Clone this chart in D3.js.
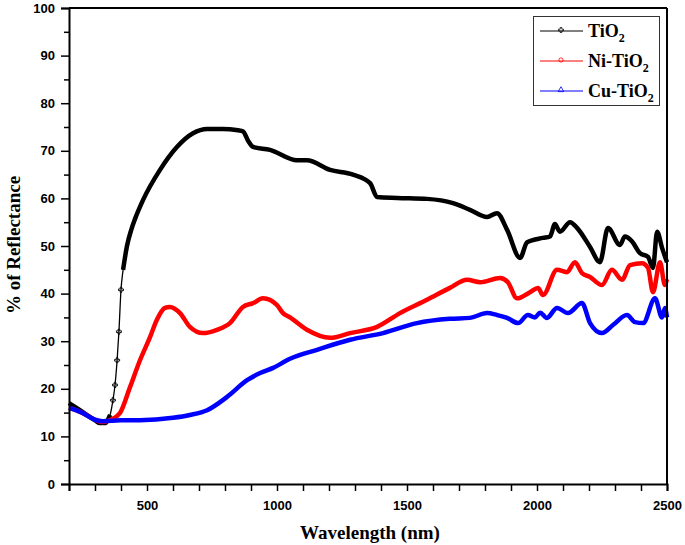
<!DOCTYPE html>
<html><head><meta charset="utf-8">
<script src="https://cdn.jsdelivr.net/npm/d3@7"></script>
<style>body{margin:0;background:#fff}svg{display:block}</style>
</head><body>
<svg id="c" width="685" height="545"></svg>
<script>
const tio2Wl = [200,242,300,319,338,358,369,377,385,392,400,408,423,440,454,485,550,615,677,731,792,850,869,890,908,973,1077,1115,1204,1292,1358,1385,1462,1577,1677,1742,1808,1846,1885,1935,1962,2023,2050,2069,2088,2127,2154,2204,2242,2273,2319,2338,2365,2396,2427,2446,2462,2481,2500];
const tio2R = [17,15.5,13.4,12.8,12.8,14.5,17.6,20.8,26,32,40.8,45,50,53.5,55.7,59.7,66,70.8,73.7,74.6,74.6,74.3,74.1,72,70.8,70.2,68,68,66,65,63.2,60.3,60.1,59.9,59,57.6,56.1,56.9,53.4,47.5,50.8,51.7,52,54.6,53,55,53.8,49.8,46.6,53.8,50.2,52,51,48.5,47.7,45.4,53,49.6,46.6];
const niWl = [200,250,300,330,360,396,435,473,512,538,569,588,627,665,715,769,819,869,908,946,1000,1023,1050,1115,1204,1281,1385,1473,1577,1665,1731,1781,1858,1888,1923,1973,2004,2023,2077,2115,2146,2173,2204,2250,2288,2327,2358,2404,2427,2446,2473,2492,2500];
const niR = [16,15,13.5,13,13.5,14.9,20.4,26,30.9,34.5,37,37.2,35.9,33,31.7,32.4,33.8,37.2,38,39,37.6,35.9,35,32.4,30.7,31.7,33,35.9,38.7,41.2,42.9,42.4,43.3,42.4,39,40.3,41.2,39.7,45,44.5,46.6,44.3,43.5,41.8,45,42.9,46,46.4,45.4,40.3,46.6,41.8,43];
const cuWl = [200,250,300,330,400,473,600,665,731,808,885,935,985,1050,1154,1281,1408,1538,1665,1742,1808,1846,1885,1927,1965,1992,2012,2038,2077,2119,2173,2204,2250,2292,2346,2377,2408,2454,2481,2492,2500];
const cuR = [16,15,13.5,13.2,13.4,13.4,13.9,14.5,15.5,18.3,21.8,23.3,24.4,26.3,28.2,30.3,31.7,33.8,34.7,34.9,35.9,35.5,34.9,33.8,35.5,35,36,34.9,37,35.9,38,33.8,31.7,33.4,35.5,34,33.8,39,35,37,35];
const seriesNames = ["TiO", "Ni-TiO", "Cu-TiO"];
const seriesColors = ["#000000", "#ff0000", "#0000ff"];
const xTickLabels = [500,1000,1500,2000,2500];
const yTickLabels = [0,10,20,30,40,50,60,70,80,90,100];

const svg = d3.select("#c");
const L=69, R=667, T=8, B=484;
const x = d3.scaleLinear().domain([200,2500]).range([L,R]);
const y = d3.scaleLinear().domain([0,100]).range([B,T]);

const series = [
  {wl:tio2Wl, r:tio2R},
  {wl:niWl, r:niR},
  {wl:cuWl, r:cuR}
];
const line = d3.line().x(d=>x(d[0])).y(d=>y(d[1])).curve(d3.curveMonotoneX);
series.forEach((s,i)=>{
  const pts = s.wl.map((w,j)=>[w,s.r[j]]);
  if (i === 0) {
    // thin sparse section on the steep rise, thick band elsewhere
    svg.append("path").attr("d", line(pts)).attr("fill","none")
      .attr("stroke", "#000").attr("stroke-width", 1.3);
    const a = pts.filter(p=>p[0]<=358), b = pts.filter(p=>p[0]>=408);
    [a,b].forEach(seg=>svg.append("path").attr("d", line(seg)).attr("fill","none")
      .attr("stroke", "#000").attr("stroke-width", 4.5).attr("stroke-linejoin","round"));
    pts.filter(p=>p[0]>358 && p[0]<408).forEach(p=>{
      svg.append("path").attr("d", d3.symbol().type(d3.symbolCross).size(14)())
        .attr("transform",`translate(${x(p[0])},${y(p[1])})`).attr("fill","none").attr("stroke","#000").attr("stroke-width",0.9);
    });
  } else {
    svg.append("path").attr("d", line(pts)).attr("fill","none")
      .attr("stroke", seriesColors[i]).attr("stroke-width", 4.5).attr("stroke-linejoin","round");
  }
});

// frame
svg.append("line").attr("x1",L).attr("x2",R).attr("y1",T).attr("y2",T).attr("stroke","#000").attr("stroke-width",2);
svg.append("line").attr("x1",R).attr("x2",R).attr("y1",T).attr("y2",B).attr("stroke","#000").attr("stroke-width",2);

// x axis
const xAxis = d3.axisBottom(x).tickValues(d3.range(200,2501,100)).tickSize(7)
  .tickFormat(d=> xTickLabels.includes(d) ? d : "");
const gx = svg.append("g").attr("transform",`translate(0,${B})`).call(xAxis);
gx.select(".domain").attr("stroke-width",2);
gx.selectAll(".tick line").attr("stroke-width",1.5);
gx.selectAll("text").attr("font-family","Arial, Liberation Sans, sans-serif").attr("font-weight","bold")
  .attr("font-size","13px").attr("fill","#000").attr("dy","1.2em");

// y axis
const yAxis = d3.axisLeft(y).tickValues(yTickLabels).tickSize(8).tickPadding(6);
const gy = svg.append("g").attr("transform",`translate(${L},0)`).call(yAxis);
gy.select(".domain").attr("stroke-width",2);
gy.selectAll(".tick line").attr("stroke-width",1.5);
gy.selectAll("text").attr("font-family","Arial, Liberation Sans, sans-serif").attr("font-weight","bold")
  .attr("font-size","13px").attr("fill","#000");
const yMinor = d3.axisLeft(y).tickValues(d3.range(5,100,10)).tickSize(5).tickFormat("");
const gym = svg.append("g").attr("transform",`translate(${L},0)`).call(yMinor);
gym.select(".domain").remove();
gym.selectAll(".tick line").attr("stroke-width",1.5);

// axis titles
svg.append("text").attr("x",370).attr("y",539).attr("text-anchor","middle")
  .attr("font-family","Liberation Serif, Times New Roman, serif").attr("font-weight","bold").attr("font-size","19px")
  .text("Wavelength (nm)");
svg.append("text").attr("transform","translate(20,245) rotate(-90)").attr("text-anchor","middle")
  .attr("font-family","Liberation Serif, Times New Roman, serif").attr("font-weight","bold").attr("font-size","19px")
  .text("% of Reflectance");

// legend
const lg = svg.append("g");
lg.append("rect").attr("x",533.5).attr("y",16.5).attr("width",126).attr("height",89)
  .attr("fill","#fff").attr("stroke","#333").attr("stroke-width",1);
const symbols = [d3.symbolCross, d3.symbolCircle, d3.symbolTriangle];
seriesNames.forEach((n,i)=>{
  const yy = 31 + i*30;
  lg.append("line").attr("x1",540).attr("x2",583).attr("y1",yy).attr("y2",yy)
    .attr("stroke",seriesColors[i]).attr("stroke-width",1);
  lg.append("path").attr("d", d3.symbol().type(symbols[i]).size(14)())
    .attr("transform",`translate(561,${yy-1})`).attr("fill","none").attr("stroke",seriesColors[i]).attr("stroke-width",0.8);
  const t = lg.append("text").attr("x",588).attr("y",yy+6)
    .attr("font-family","Liberation Serif, Times New Roman, serif").attr("font-weight","bold").attr("font-size","18px").attr("fill","#000");
  t.append("tspan").text(n);
  t.append("tspan").attr("dy",5).attr("font-size","12px").text("2");
});
</script>
</body></html>
